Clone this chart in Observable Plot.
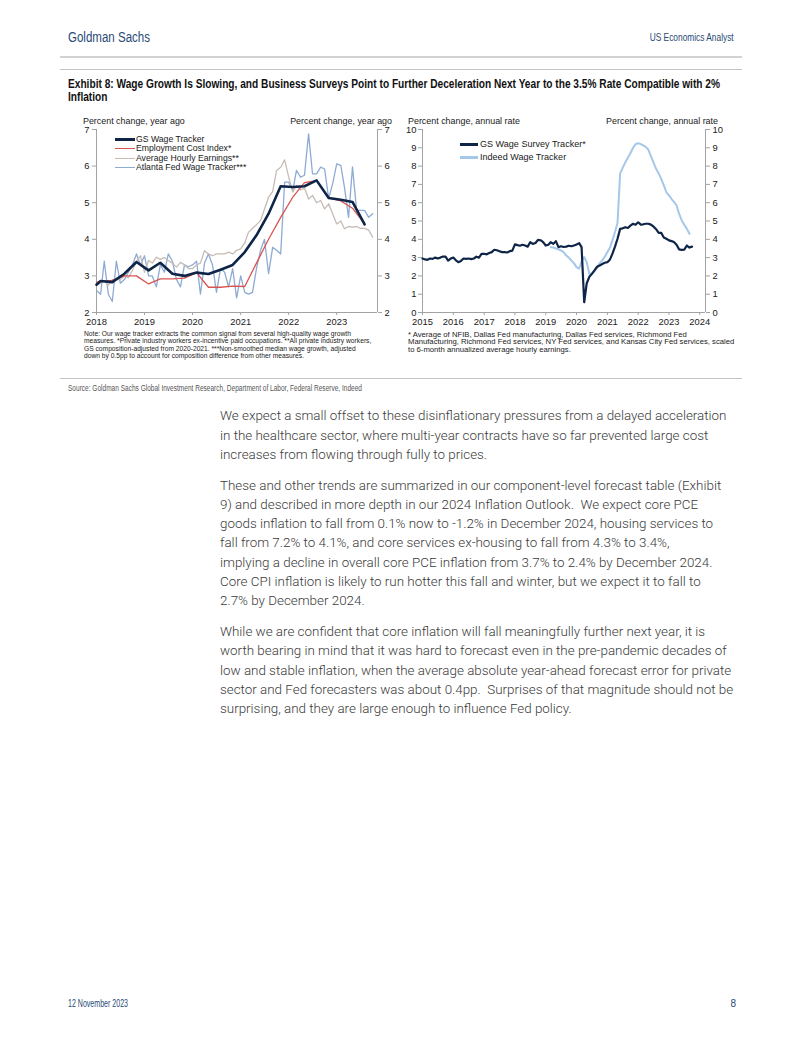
<!DOCTYPE html>
<html><head><meta charset="utf-8">
<script src="https://cdn.jsdelivr.net/npm/d3@7"></script>
<script src="https://cdn.jsdelivr.net/npm/@observablehq/plot@0.6"></script>
<style>
html,body{margin:0;padding:0;background:#fff;}
#page{position:relative;width:802px;height:1037px;overflow:hidden;background:#fff;}
.abs{position:absolute;white-space:pre;line-height:1;}
.chart{position:absolute;}
</style></head><body><div id="page"></div>
<script>
// ---------------- DATA ----------------
// Left panel: percent change, year ago
const leftYears = [2018, 2019, 2020, 2021, 2022, 2023];
const leftYTicks = [2, 3, 4, 5, 6, 7];
const gsTrackerDates = ["2018-01","2018-02","2018-05","2018-08","2018-11","2019-02","2019-05","2019-08","2019-11","2020-02","2020-05","2020-08","2020-11","2021-02","2021-05","2021-08","2021-11","2022-02","2022-05","2022-08","2022-11","2023-02","2023-05","2023-08"];
const gsWageTracker = [2.76,2.86,2.83,3.06,3.38,3.15,3.36,3.06,3.00,3.09,3.05,3.17,3.30,3.65,4.11,4.70,5.45,5.43,5.45,5.61,5.13,5.08,5.02,4.41];
const employmentCostIndex = [2.82,2.85,2.88,3.00,3.00,2.78,2.92,2.92,2.94,3.09,2.69,2.69,2.72,2.71,3.35,4.00,4.60,5.15,5.55,5.60,5.13,5.05,4.85,4.42];
const monthlyStartLeft = "2018-01";
const averageHourlyEarnings = [
  2.75,2.80,2.85,2.75,2.90,2.90,2.90,3.00,2.95,3.15,3.40,3.55,
  3.10,3.42,3.35,3.51,3.45,3.50,3.42,3.35,3.24,3.37,3.30,3.20,
  3.20,3.30,3.35,3.69,3.60,3.55,3.60,3.60,3.60,3.65,3.60,3.70,
  3.74,3.90,4.19,4.30,4.40,4.51,4.83,5.15,5.30,5.88,5.97,6.17,
  5.70,5.29,5.47,5.35,5.40,5.10,5.20,5.00,5.06,4.83,4.97,4.70,
  4.42,4.50,4.29,4.35,4.33,4.35,4.30,4.30,4.25,4.06];
const atlantaFedTracker = [
  2.60,2.50,3.40,2.50,2.30,3.40,2.80,2.90,3.10,3.30,3.60,3.30,
  3.55,3.00,3.00,2.70,3.30,3.10,3.60,3.40,2.90,2.70,3.30,3.25,
  3.30,3.40,2.50,3.35,3.60,3.30,2.55,3.20,3.10,2.70,3.20,2.40,
  3.00,2.55,2.50,2.55,3.20,3.70,4.00,3.06,3.78,3.70,3.60,5.56,
  5.56,5.33,5.88,5.70,5.75,6.88,5.79,5.79,5.97,5.92,5.11,5.52,
  6.06,6.02,5.42,4.60,5.98,4.79,4.79,4.79,4.60,4.70];

// Right panel: percent change, annual rate
const rightYears = [2015, 2016, 2017, 2018, 2019, 2020, 2021, 2022, 2023, 2024];
const rightYTicks = [0,1,2,3,4,5,6,7,8,9,10];
const surveyStart = "2015-01";
const gsWageSurveyTracker = [
  2.95,2.90,2.88,2.95,2.93,3.00,2.95,3.00,3.06,3.05,2.84,2.95,
  3.00,2.85,2.75,2.82,2.95,2.93,2.95,2.92,2.95,3.05,3.00,3.20,
  3.21,3.18,3.25,3.30,3.43,3.40,3.35,3.30,3.30,3.28,3.35,3.38,
  3.72,3.68,3.65,3.70,3.66,3.60,3.84,3.75,3.80,3.97,3.95,3.85,
  3.66,3.70,3.84,3.75,3.90,3.57,3.62,3.58,3.60,3.65,3.62,3.66,
  3.72,3.79,3.57,0.56,1.60,1.95,2.11,2.30,2.50,2.57,2.65,2.72,
  2.75,2.90,3.20,3.60,4.03,4.57,4.60,4.66,4.62,4.75,4.85,4.80,
  4.93,4.80,4.82,4.85,4.85,4.80,4.70,4.55,4.35,4.35,4.10,4.03,
  3.94,3.90,3.85,3.70,3.45,3.42,3.44,3.66,3.55,3.60];
const indeedStart = "2019-03";
const indeedWageTracker = [
  3.57,3.55,3.50,3.45,3.39,3.30,3.11,3.00,2.84,2.70,
  2.48,2.39,2.80,3.03,2.75,2.12,2.12,2.25,2.48,2.70,2.85,3.05,
  3.30,3.55,3.94,4.40,4.90,7.60,7.90,8.20,8.45,8.70,9.00,9.20,
  9.25,9.20,9.13,9.05,8.90,8.55,8.20,7.85,7.60,7.30,6.95,6.57,
  6.40,6.20,6.05,5.85,5.40,5.03,4.80,4.57,4.30];

const leftSeriesNames = ["GS Wage Tracker","Employment Cost Index*","Average Hourly Earnings**","Atlanta Fed Wage Tracker***"];
const rightSeriesNames = ["GS Wage Survey Tracker*","Indeed Wage Tracker"];

const bodyParagraphs = [
 ["We expect a small offset to these disinflationary pressures from a delayed acceleration",
  "in the healthcare sector, where multi-year contracts have so far prevented large cost",
  "increases from flowing through fully to prices."],
 ["These and other trends are summarized in our component-level forecast table (Exhibit",
  "9) and described in more depth in our 2024 Inflation Outlook.  We expect core PCE",
  "goods inflation to fall from 0.1% now to -1.2% in December 2024, housing services to",
  "fall from 7.2% to 4.1%, and core services ex-housing to fall from 4.3% to 3.4%,",
  "implying a decline in overall core PCE inflation from 3.7% to 2.4% by December 2024.",
  "Core CPI inflation is likely to run hotter this fall and winter, but we expect it to fall to",
  "2.7% by December 2024."],
 ["While we are confident that core inflation will fall meaningfully further next year, it is",
  "worth bearing in mind that it was hard to forecast even in the pre-pandemic decades of",
  "low and stable inflation, when the average absolute year-ahead forecast error for private",
  "sector and Fed forecasters was about 0.4pp.  Surprises of that magnitude should not be",
  "surprising, and they are large enough to influence Fed policy."]
];
const leftNotes = [
 "Note: Our wage tracker extracts the common signal from several high-quality wage growth",
 "measures. *Private industry workers ex-incentive paid occupations. **All private industry workers,",
 "GS composition-adjusted from 2020-2021. ***Non-smoothed median wage growth, adjusted",
 "down by 0.5pp to account for composition difference from other measures."];
const rightNotes = [
 "* Average of NFIB, Dallas Fed manufacturing, Dallas Fed services, Richmond Fed",
 "Manufacturing, Richmond Fed services, NY Fed services, and Kansas City Fed services, scaled",
 "to 6-month annualized average hourly earnings."];

// ---------------- HELPERS ----------------
const page = document.getElementById("page");
const parse = d3.utcParse("%Y-%m");
const byDates = (dates, vals) => dates.map((d, i) => ({date: parse(d), value: vals[i]}));
const monthly = (start, vals) => vals.map((v, i) => ({date: d3.utcMonth.offset(parse(start), i), value: v}));
const yearDate = y => new Date(Date.UTC(y, 0, 1));

const F_CHART = "'Liberation Sans', Arial, Helvetica, sans-serif";
const F_BODY = "Roboto, 'Noto Sans', sans-serif";

// o.fit: scale font size to width; o.squeeze: keep size, compress horizontally to width
function txt(s, o) {
  const d = document.createElement("div");
  d.className = "abs"; d.textContent = s;
  Object.assign(d.style, {fontFamily: o.font, fontSize: o.size + "px", fontWeight: o.weight || 400, color: o.color || "#222"});
  page.appendChild(d);
  let size = o.size;
  if (o.fit) { const w = d.getBoundingClientRect().width; size = o.size * o.fit / w; d.style.fontSize = size + "px"; }
  let r = d.getBoundingClientRect();
  let w = r.width;
  if (o.squeeze) {
    const k = o.squeeze / r.width;
    d.style.transformOrigin = o.anchor === "end" ? "right center" : "left center";
    d.style.transform = `scaleX(${k})`;
  } else if (o.k) {
    d.style.transformOrigin = o.anchor === "end" ? "right center" : "left center";
    d.style.transform = `scaleX(${o.k})`;
  }
  d.style.left = (o.anchor === "end" ? o.x - w : o.x) + "px";
  d.style.top = (o.y - r.height / 2) + "px";
  return o.squeeze ? o.squeeze / w : size;
}
function hline(x1, x2, y, color, w) {
  const d = document.createElement("div");
  Object.assign(d.style, {position: "absolute", left: x1 + "px", top: (y - w / 2) + "px", width: (x2 - x1) + "px", height: w + "px", background: color});
  page.appendChild(d);
}

// ---------------- COLORS ----------------
const NAVY = "#0f2548", RED = "#d95450", TAN = "#c6bcb5", STEEL = "#8eabd3", SKY = "#a4c8e9";
const AXIS = "#a3a3a3";
const HEAD = "#2a4a75";

// ---------------- HEADER ----------------
txt("Goldman Sachs", {x: 68, y: 37, size: 14, font: F_CHART, color: HEAD, squeeze: 82});
txt("US Economics Analyst", {x: 734, y: 38, size: 11.5, font: F_CHART, color: HEAD, anchor: "end", squeeze: 84});
hline(60, 742, 57, "#d2d2d2", 2);
hline(60, 742, 69, "#c4c4c4", 1);
const tk = txt("Exhibit 8: Wage Growth Is Slowing, and Business Surveys Point to Further Deceleration Next Year to the 3.5% Rate Compatible with 2%",
  {x: 68, y: 84, size: 12.5, font: F_CHART, weight: 700, color: "#111", squeeze: 652});
txt("Inflation", {x: 68, y: 97.5, size: 12.5, font: F_CHART, weight: 700, color: "#111", k: tk});

// ---------------- LEFT CHART ----------------
const lx0 = yearDate(2018), lx1 = new Date(Date.UTC(2023, 10, 7));
const leftPlot = Plot.plot({
  width: 345, height: 220, marginLeft: 36, marginRight: 28, marginTop: 19, marginBottom: 18,
  style: {fontFamily: F_CHART, fontSize: "9.4px", color: "#1a1a1a", background: "none", overflow: "visible"},
  x: {type: "utc", domain: [lx0, lx1]},
  y: {domain: [2, 7]},
  marks: [
    Plot.ruleX([lx0, lx1], {stroke: AXIS}),
    Plot.ruleY([2], {stroke: AXIS}),
    Plot.axisY({anchor: "left", ticks: leftYTicks, tickFormat: d3.format("d"), tickSize: 4, tickPadding: 3, stroke: AXIS, label: null}),
    Plot.axisY({anchor: "right", ticks: leftYTicks, tickFormat: d3.format("d"), tickSize: 4, tickPadding: 3, stroke: AXIS, label: null}),
    Plot.axisX({ticks: leftYears.map(yearDate), tickFormat: "%Y", tickSize: 3, tickPadding: 3, stroke: AXIS, label: null}),
    Plot.line(monthly(monthlyStartLeft, atlantaFedTracker), {x: "date", y: "value", stroke: STEEL, strokeWidth: 1.3}),
    Plot.line(monthly(monthlyStartLeft, averageHourlyEarnings), {x: "date", y: "value", stroke: TAN, strokeWidth: 1.3}),
    Plot.line(byDates(gsTrackerDates, employmentCostIndex), {x: "date", y: "value", stroke: RED, strokeWidth: 1.3}),
    Plot.line(byDates(gsTrackerDates, gsWageTracker), {x: "date", y: "value", stroke: NAVY, strokeWidth: 2.6})
  ]
});
const lw = document.createElement("div"); lw.className = "chart"; lw.style.left = "60px"; lw.style.top = "110px";
lw.appendChild(leftPlot); page.appendChild(lw);

// ---------------- RIGHT CHART ----------------
const rx0 = yearDate(2015), rx1 = new Date(Date.UTC(2024, 2, 9));
const rightPlot = Plot.plot({
  width: 340, height: 220, marginLeft: 22, marginRight: 35, marginTop: 19, marginBottom: 18,
  style: {fontFamily: F_CHART, fontSize: "9.4px", color: "#1a1a1a", background: "none", overflow: "visible"},
  x: {type: "utc", domain: [rx0, rx1]},
  y: {domain: [0, 10]},
  marks: [
    Plot.ruleX([rx0, rx1], {stroke: AXIS}),
    Plot.ruleY([0], {stroke: AXIS}),
    Plot.axisY({anchor: "left", ticks: rightYTicks, tickFormat: d3.format("d"), tickSize: 4, tickPadding: 2, stroke: AXIS, label: null}),
    Plot.axisY({anchor: "right", ticks: rightYTicks, tickFormat: d3.format("d"), tickSize: 4, tickPadding: 3, stroke: AXIS, label: null}),
    Plot.axisX({ticks: rightYears.map(yearDate), tickFormat: "%Y", tickSize: 3, tickPadding: 3, stroke: AXIS, label: null}),
    Plot.line(monthly(indeedStart, indeedWageTracker), {x: "date", y: "value", stroke: SKY, strokeWidth: 2}),
    Plot.line(monthly(surveyStart, gsWageSurveyTracker), {x: "date", y: "value", stroke: NAVY, strokeWidth: 2.2})
  ]
});
const rw = document.createElement("div"); rw.className = "chart"; rw.style.left = "400px"; rw.style.top = "110px";
rw.appendChild(rightPlot); page.appendChild(rw);

// ---------------- AXIS UNIT LABELS ----------------
txt("Percent change, year ago", {x: 83, y: 121, size: 9.5, font: F_CHART, color: "#1a1a1a", fit: 102});
txt("Percent change, year ago", {x: 392, y: 121, size: 9.5, font: F_CHART, color: "#1a1a1a", anchor: "end", fit: 102});
txt("Percent change, annual rate", {x: 408, y: 121, size: 9.5, font: F_CHART, color: "#1a1a1a", fit: 112});
txt("Percent change, annual rate", {x: 718, y: 121, size: 9.5, font: F_CHART, color: "#1a1a1a", anchor: "end", fit: 112});

// ---------------- LEGENDS ----------------
const leftLegendColors = [NAVY, RED, TAN, STEEL], leftLegendW = [3, 1.5, 1.5, 1.5];
const leftLegendY = [139, 148.7, 158.3, 167.5];
const probeL = document.createElement("div"); probeL.className = "abs"; probeL.textContent = leftSeriesNames[2];
probeL.style.fontFamily = F_CHART; probeL.style.fontSize = "10px"; page.appendChild(probeL);
const legSizeL = 10 * 103 / probeL.getBoundingClientRect().width; page.removeChild(probeL);
leftSeriesNames.forEach((n, i) => {
  hline(115, 135, leftLegendY[i], leftLegendColors[i], leftLegendW[i]);
  txt(n, {x: 136, y: leftLegendY[i], size: legSizeL, font: F_CHART, color: "#1a1a1a"});
});
const rightLegendColors = [NAVY, SKY], rightLegendY = [144.3, 157.7];
const legSizeR = txt(rightSeriesNames[0], {x: 480, y: rightLegendY[0], size: 10, font: F_CHART, color: "#1a1a1a", fit: 106});
txt(rightSeriesNames[1], {x: 480, y: rightLegendY[1], size: legSizeR, font: F_CHART, color: "#1a1a1a"});
rightLegendColors.forEach((c, i) => hline(460, 478, rightLegendY[i], c, 2.6));

// ---------------- NOTES & SOURCE ----------------
const ln = txt(leftNotes[1], {x: 84, y: 341.5, size: 7, font: F_CHART, color: "#222", fit: 288});
[334, 341.5, 349, 356.5].forEach((y, i) => { if (i !== 1) txt(leftNotes[i], {x: 84, y, size: ln, font: F_CHART, color: "#222"}); });
const rn = txt(rightNotes[1], {x: 408, y: 342, size: 7, font: F_CHART, color: "#222", fit: 327});
[334.5, 342, 349.5].forEach((y, i) => { if (i !== 1) txt(rightNotes[i], {x: 408, y, size: rn, font: F_CHART, color: "#222"}); });
hline(60, 742, 378, "#c4c4c4", 1);
txt("Source: Goldman Sachs Global Investment Research, Department of Labor, Federal Reserve, Indeed",
  {x: 68, y: 388, size: 8.3, font: F_CHART, color: "#555", squeeze: 294});

// ---------------- BODY ----------------
const bodySize = (() => {
  const probe = document.createElement("div"); probe.className = "abs"; probe.textContent = bodyParagraphs[0][0];
  probe.style.fontFamily = F_BODY; probe.style.fontSize = "14px"; probe.style.fontWeight = 300; page.appendChild(probe);
  const w = probe.getBoundingClientRect().width; page.removeChild(probe); return 14 * 507 / w;
})();
let by = 416;
bodyParagraphs.forEach((p) => {
  p.forEach((line) => {
    txt(line, {x: 220, y: by, size: bodySize, font: F_BODY, weight: 300, color: "#3a3a3a"});
    by += 19.3;
  });
  by += 11.4;
});

// ---------------- FOOTER ----------------
txt("12 November 2023", {x: 68, y: 1004, size: 10, font: F_CHART, color: HEAD, squeeze: 60});
txt("8", {x: 736, y: 1004, size: 10, font: F_CHART, color: HEAD, anchor: "end"});
</script></body></html>
